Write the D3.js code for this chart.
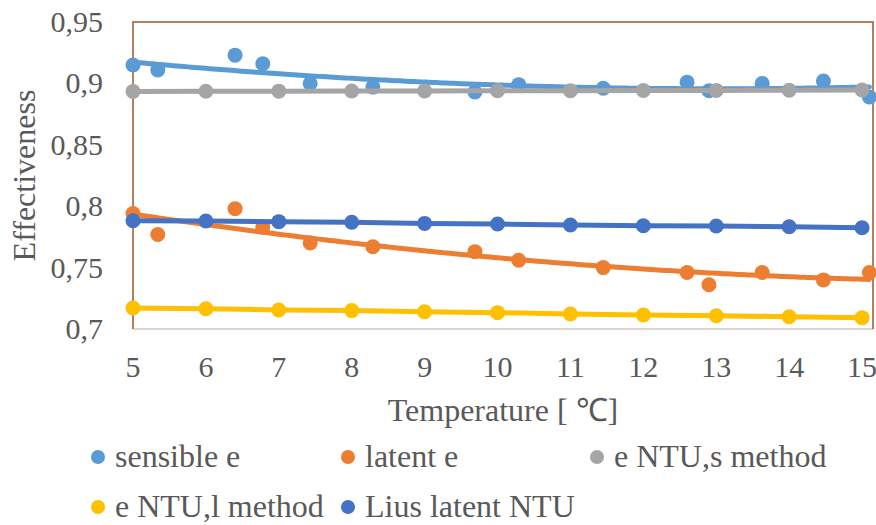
<!DOCTYPE html>
<html>
<head>
<meta charset="utf-8">
<script src="https://cdn.jsdelivr.net/npm/d3@7"></script>
<style>
  body { margin: 0; background: #fff; }
</style>
</head>
<body>
<div id="chart"></div>
<script>
// measured temperatures (sensible + latent share them)
var measT = [5.0, 5.34, 6.4, 6.78, 7.43, 8.29, 9.69, 10.29, 11.45, 12.6, 12.9, 13.63, 14.47, 15.1];
var sensible = [0.915, 0.911, 0.923, 0.916, 0.900, 0.897, 0.893, 0.899, 0.896, 0.901, 0.894, 0.900, 0.902, 0.889];
var latent = [0.794, 0.777, 0.798, 0.783, 0.770, 0.767, 0.763, 0.756, 0.750, 0.746, 0.736, 0.746, 0.740, 0.746];

// model temperatures
var modelT = [5, 6, 7, 8, 9, 10, 11, 12, 13, 14, 15];
var ntuS = [0.8935, 0.8936, 0.8937, 0.8938, 0.8939, 0.894, 0.8941, 0.8942, 0.8943, 0.8944, 0.8946];
var ntuL = [0.7171, 0.7165, 0.7155, 0.715, 0.714, 0.7133, 0.7122, 0.7114, 0.7108, 0.710, 0.7092];
var lius = [0.7882, 0.788, 0.7874, 0.7869, 0.786, 0.7855, 0.7847, 0.7841, 0.7839, 0.7833, 0.7825];

var xTicks = [5, 6, 7, 8, 9, 10, 11, 12, 13, 14, 15];
var yTicks = [0.7, 0.75, 0.8, 0.85, 0.9, 0.95];

var colors = {
    sensible: '#5B9BD5',
    latent: '#ED7D31',
    ntuS: '#A5A5A5',
    ntuL: '#FFC000',
    lius: '#4472C4'
};

var FONT = "'Liberation Serif', Tinos, 'Times New Roman', serif";

var width = 876, height = 525;
var margin = {left: 133, right: 3, top: 22, bottom: 196};

var svg = d3.select('#chart')
    .append('svg')
    .attr('width', width)
    .attr('height', height)
    .attr('font-family', FONT);

var x = d3.scaleLinear().domain([5, 15.15]).range([margin.left, width - margin.right]);
var y = d3.scaleLinear().domain([0.7, 0.95]).range([height - margin.bottom, margin.top]);

// Excel style polynomial trendline (order 2), least squares
function polyfit(xs, ys) {
    var s = [0, 0, 0, 0, 0], t = [0, 0, 0];
    xs.forEach(function(xv, i){
        for (var k = 0; k < 5; k++) s[k] += Math.pow(xv, k);
        for (var j = 0; j < 3; j++) t[j] += ys[i] * Math.pow(xv, j);
    });
    var m = [[s[0], s[1], s[2], t[0]], [s[1], s[2], s[3], t[1]], [s[2], s[3], s[4], t[2]]];
    for (var c = 0; c < 3; c++) {
        for (var r = c + 1; r < 3; r++) {
            var f = m[r][c] / m[c][c];
            for (var q = c; q < 4; q++) m[r][q] -= f * m[c][q];
        }
    }
    var a = [0, 0, 0];
    for (var r2 = 2; r2 >= 0; r2--) {
        var sum = m[r2][3];
        for (var q2 = r2 + 1; q2 < 3; q2++) sum -= m[r2][q2] * a[q2];
        a[r2] = sum / m[r2][r2];
    }
    return function(xv){ return a[0] + a[1] * xv + a[2] * xv * xv; };
}

var line = d3.line().x(function(d){return x(d[0]);}).y(function(d){return y(d[1]);});

function addText(sel, size) {
    return sel.attr('font-family', FONT).attr('fill', '#595959').attr('font-size', size);
}

// y tick labels
addText(svg.selectAll('.ylab')
    .data(yTicks)
    .enter()
    .append('text'), 30)
    .attr('x', 103)
    .attr('y', function(d){return y(d);})
    .attr('dy', '0.33em')
    .attr('text-anchor', 'end')
    .text(function(d){return String(d).replace('.', ',');});

// x tick labels
addText(svg.selectAll('.xlab')
    .data(xTicks)
    .enter()
    .append('text'), 30)
    .attr('x', function(d){return x(d);})
    .attr('y', 377)
    .attr('text-anchor', 'middle')
    .text(function(d){return d;});

// plot frame
var x0 = x(5), x1 = x(15.15), y0 = y(0.7), y1 = y(0.95);
svg.append('line').attr('x1', x0).attr('x2', x1).attr('y1', y0).attr('y2', y0)
    .attr('stroke', '#d3c8bf').attr('stroke-width', 1.5);
svg.append('path')
    .attr('d', 'M' + x0 + ',' + y0 + 'V' + y1 + 'H' + x1 + 'V' + y0)
    .attr('fill', 'none')
    .attr('stroke', '#9a5828')
    .attr('stroke-width', 1.5);

// trendlines
var samples = d3.range(5, 15.1001, 0.05);
[[sensible, colors.sensible], [latent, colors.latent]].forEach(function(s){
    var fit = polyfit(measT, s[0]);
    svg.append('path')
        .attr('d', line(samples.map(function(t){return [t, fit(t)];})))
        .attr('fill', 'none')
        .attr('stroke', s[1])
        .attr('stroke-width', 5)
        .attr('stroke-linecap', 'round');
});

// measured points
[[sensible, colors.sensible], [latent, colors.latent]].forEach(function(s){
    svg.append('g').selectAll('circle')
        .data(measT.map(function(t, i){return [t, s[0][i]];}))
        .enter()
        .append('circle')
        .attr('cx', function(d){return x(d[0]);})
        .attr('cy', function(d){return y(d[1]);})
        .attr('r', 7.5)
        .attr('fill', s[1]);
});

// model lines with markers
[[ntuS, colors.ntuS], [ntuL, colors.ntuL], [lius, colors.lius]].forEach(function(s){
    var pts = modelT.map(function(t, i){return [t, s[0][i]];});
    svg.append('path')
        .attr('d', line(pts))
        .attr('fill', 'none')
        .attr('stroke', s[1])
        .attr('stroke-width', 5)
        .attr('stroke-linecap', 'round');
    svg.append('g').selectAll('circle')
        .data(pts)
        .enter()
        .append('circle')
        .attr('cx', function(d){return x(d[0]);})
        .attr('cy', function(d){return y(d[1]);})
        .attr('r', 7.5)
        .attr('fill', s[1]);
});

// axis titles
addText(svg.append('text'), 32)
    .attr('transform', 'translate(35,' + ((y0 + y1) / 2) + ') rotate(-90)')
    .attr('text-anchor', 'middle')
    .text('Effectiveness');

addText(svg.append('text'), 32)
    .attr('x', 503)
    .attr('y', 421)
    .attr('text-anchor', 'middle')
    .text('Temperature [ \u2103]');

// legend
var legend = [
    {name: 'sensible e', color: colors.sensible, lx: 98, ly: 457},
    {name: 'latent e', color: colors.latent, lx: 348, ly: 457},
    {name: 'e NTU,s method', color: colors.ntuS, lx: 597, ly: 457},
    {name: 'e NTU,l method', color: colors.ntuL, lx: 98, ly: 507},
    {name: 'Lius latent NTU', color: colors.lius, lx: 348, ly: 507}
];
var lg = svg.selectAll('.leg')
    .data(legend)
    .enter()
    .append('g');
lg.append('circle')
    .attr('cx', function(d){return d.lx;})
    .attr('cy', function(d){return d.ly;})
    .attr('r', 7)
    .attr('fill', function(d){return d.color;});
addText(lg.append('text'), 32)
    .attr('x', function(d){return d.lx + 17;})
    .attr('y', function(d){return d.ly;})
    .attr('dy', '0.32em')
    .text(function(d){return d.name;});
</script>
</body>
</html>
